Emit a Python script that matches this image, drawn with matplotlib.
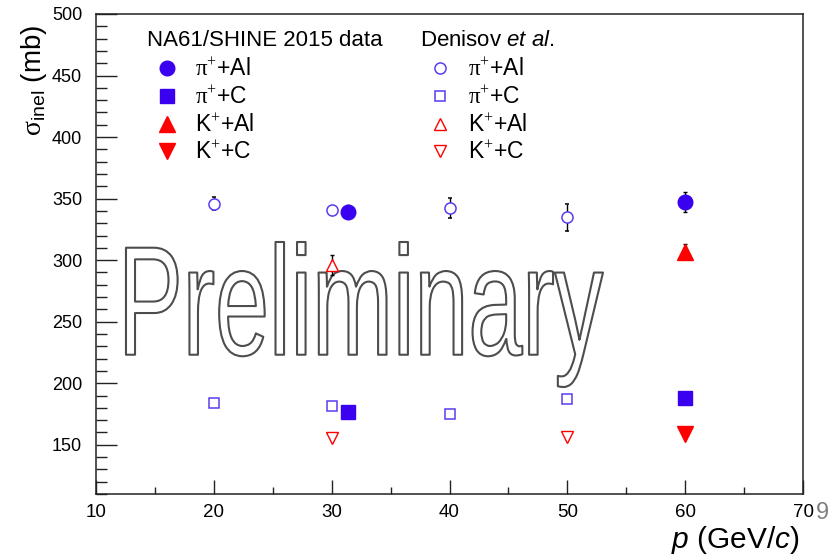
import matplotlib
matplotlib.use("Agg")
import matplotlib.pyplot as plt
from matplotlib.patheffects import AbstractPathEffect
from matplotlib.transforms import Affine2D
from matplotlib.ticker import MultipleLocator

plt.rcParams['font.family'] = ['Liberation Sans', 'DejaVu Sans']
plt.rcParams['mathtext.fontset'] = 'custom'
plt.rcParams['mathtext.rm'] = 'Liberation Serif'
plt.rcParams['mathtext.it'] = 'Liberation Sans:italic'
plt.rcParams['mathtext.sf'] = 'Liberation Sans'

# NA61/SHINE 2015 measurements
na61_pi_al_p = [31.4, 60]
na61_pi_al_sigma = [339.5, 347.0]
na61_pi_al_err = [5.0, 8.0]

na61_pi_c_p = [31.4, 60]
na61_pi_c_sigma = [176.6, 188.0]
na61_pi_c_err = [2.0, 3.5]

na61_k_al_p = [60]
na61_k_al_sigma = [307.0]
na61_k_al_err = [6.0]

na61_k_c_p = [60]
na61_k_c_sigma = [158.5]
na61_k_c_err = [2.0]

# Denisov et al.
den_pi_al_p = [20, 30, 40, 50]
den_pi_al_sigma = [346.0, 340.7, 342.5, 335.0]
den_pi_al_err = [5.3, 3.5, 8.0, 11.0]

den_pi_c_p = [20, 30, 40, 50]
den_pi_c_sigma = [184.0, 181.5, 175.0, 187.0]
den_pi_c_err = [1.5, 1.5, 1.5, 2.5]

den_k_al_p = [30]
den_k_al_sigma = [296.0]
den_k_al_err = [8.0]

den_k_c_p = [30, 50]
den_k_c_sigma = [155.5, 156.3]
den_k_c_err = [1.5, 1.5]

labels = [r'$\mathrm{\pi}^{+}$+Al', r'$\mathrm{\pi}^{+}$+C', 'K$^{+}$+Al', 'K$^{+}$+C']

BLUE = '#3a00f0'
OPEN_BLUE = '#5a3cf0'
RED = '#ff0000'

fig = plt.figure(figsize=(8.32, 5.55), dpi=100)
ax = fig.add_axes([96 / 832, 61 / 555, 707 / 832, 480 / 555])


class FitToBox(AbstractPathEffect):
    """Outline the glyph path, stretched to fill a box given in axes fraction."""

    def __init__(self, axes, box, linewidth, color):
        super().__init__()
        self.axes = axes
        self.box = box
        self.linewidth = linewidth
        self.color = color

    def draw_path(self, renderer, gc, tpath, affine, rgbFace=None):
        ext = tpath.get_extents(affine)
        (x0, y0), (x1, y1) = self.axes.transAxes.transform(
            [(self.box[0], self.box[1]), (self.box[2], self.box[3])])
        fit = Affine2D().translate(-ext.x0, -ext.y0).scale(
            (x1 - x0) / ext.width, (y1 - y0) / ext.height).translate(x0, y0)
        gc0 = renderer.new_gc()
        gc0.copy_properties(gc)
        gc0.set_linewidth(self.linewidth)
        gc0.set_foreground(self.color)
        renderer.draw_path(gc0, tpath, affine + fit, None)
        gc0.restore()


ax.text(0.38, 0.38, 'Preliminary', transform=ax.transAxes, fontsize=40,
        ha='center', va='center', zorder=1,
        path_effects=[FitToBox(ax, (0.0424, 0.2229, 0.7171, 0.5250),
                               1.5, '#4d4d4d')])

err_kw = dict(ecolor='black', elinewidth=1.0, capsize=1.6, capthick=1.0,
              linestyle='none', zorder=3)

h1 = ax.errorbar(na61_pi_al_p, na61_pi_al_sigma, yerr=na61_pi_al_err, marker='o',
                 ms=10.5, mfc=BLUE, mec=BLUE, **err_kw)
h2 = ax.errorbar(na61_pi_c_p, na61_pi_c_sigma, yerr=na61_pi_c_err, marker='s',
                 ms=9.5, mfc=BLUE, mec=BLUE, **err_kw)
h3 = ax.errorbar(na61_k_al_p, na61_k_al_sigma, yerr=na61_k_al_err, marker='^',
                 ms=11.5, mfc=RED, mec=RED, **err_kw)
h4 = ax.errorbar(na61_k_c_p, na61_k_c_sigma, yerr=na61_k_c_err, marker='v',
                 ms=11.5, mfc=RED, mec=RED, **err_kw)

g1 = ax.errorbar(den_pi_al_p, den_pi_al_sigma, yerr=den_pi_al_err, marker='o',
                 ms=8.0, mfc='white', mec=OPEN_BLUE, mew=1.1, **err_kw)
g2 = ax.errorbar(den_pi_c_p, den_pi_c_sigma, yerr=den_pi_c_err, marker='s',
                 ms=7.5, mfc='white', mec=OPEN_BLUE, mew=1.1, **err_kw)
g3 = ax.errorbar(den_k_al_p, den_k_al_sigma, yerr=den_k_al_err, marker='^',
                 ms=9.0, mfc='white', mec=RED, mew=1.0, **err_kw)
g4 = ax.errorbar(den_k_c_p, den_k_c_sigma, yerr=den_k_c_err, marker='v',
                 ms=9.0, mfc='white', mec=RED, mew=1.0, **err_kw)

ax.set_xlim(10, 70)
ax.set_ylim(110, 500)
ax.xaxis.set_major_locator(MultipleLocator(10))
ax.xaxis.set_minor_locator(MultipleLocator(5))
ax.yaxis.set_major_locator(MultipleLocator(50))
ax.yaxis.set_minor_locator(MultipleLocator(10))
ax.tick_params(axis='both', which='both', direction='in', top=False, right=False,
               width=1.0, colors='#222222', labelcolor='black')
ax.tick_params(axis='y', which='major', length=15, labelsize=13, pad=10)
ax.tick_params(axis='y', which='minor', length=8)
ax.tick_params(axis='x', which='major', length=10, labelsize=13.5, pad=7)
ax.tick_params(axis='x', which='minor', length=5)
for s in ax.spines.values():
    s.set_linewidth(1.1)
    s.set_color('#222222')

ax.set_ylabel(r'$\mathrm{\sigma}_{\mathsf{inel}}$ (mb)', fontsize=20, va='center')
ax.yaxis.set_label_coords(-0.087, 0.8625)
ax.set_xlabel(r'$\mathit{p}$ (GeV/$\mathit{c}$)', fontsize=21.5, va='center')
ax.xaxis.set_label_coords(0.904, -0.095)

leg_kw = dict(loc='upper left', frameon=False, fontsize=16.5, title_fontsize=16,
              alignment='left', borderpad=0, borderaxespad=0, handlelength=1.75,
              handletextpad=0.35, labelspacing=0.2, numpoints=1)
leg1 = ax.legend([h[0] for h in (h1, h2, h3, h4)], labels,
                 title='NA61/SHINE 2015 data', bbox_to_anchor=(0.072, 0.967), **leg_kw)
leg1._legend_box.sep = 5.5
ax.add_artist(leg1)
leg2 = ax.legend([g[0] for g in (g1, g2, g3, g4)], labels,
                 title=r'Denisov $\mathit{et\ al}$.', bbox_to_anchor=(0.458, 0.967), **leg_kw)
leg2._legend_box.sep = 5.5

fig.text(822 / 832, 1 - 513 / 555, '9', fontsize=17, color='#808080',
         ha='center', va='center')

fig.savefig('out.png', dpi=100)
